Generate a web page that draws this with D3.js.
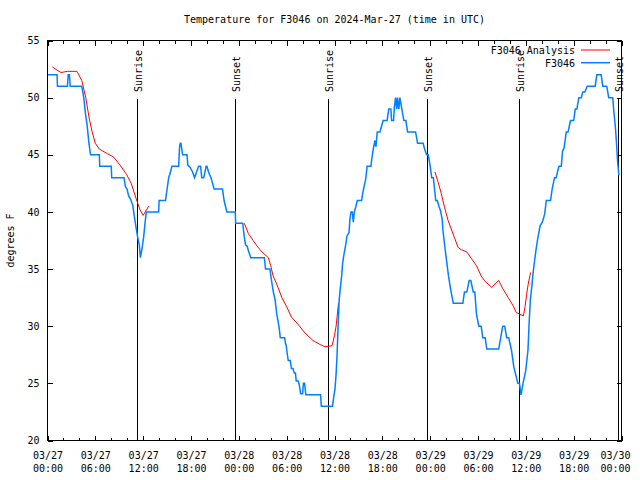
<!DOCTYPE html>
<html>
<head>
<meta charset="utf-8">
<script src="https://cdn.jsdelivr.net/npm/d3@7"></script>
<style>
  html, body { margin: 0; padding: 0; background: #fff; }
  svg { display: block; }
  text { font-family: "DejaVu Sans Mono", "Liberation Mono", monospace; font-size: 10px; fill: #000; }
</style>
</head>
<body>
<svg id="chart" width="640" height="480"></svg>
<script>
// ---------------- DATA ----------------
const chartTitle = "Temperature for F3046 on 2024-Mar-27 (time in UTC)";
const yLabel = "degrees F";
const startUTC = [2024, 2, 27];          // 03/27 00:00 UTC
const spanHours = 72;
const yTickValues = [20, 25, 30, 35, 40, 45, 50, 55];
const seriesNames = ["F3046 Analysis", "F3046"];
const seriesColors = ["#ff0000", "#0080ff"];

// Sunrise / sunset (hours since 03/27 00:00 UTC)
const sunHours  = [11.31, 23.56, 35.23, 47.63, 59.2, 71.67];
const sunLabels = ["Sunrise", "Sunset", "Sunrise", "Sunset", "Sunrise", "Sunset"];

// Observed temperature F3046 (hours since start)
const obsHours = [0,1.2,1.25,2.5,2.6,2.75,2.85,4.3,
 4.55,4.76,4.97,5.18,5.4,6.5,6.55,8.0,8.05,9.6,
 9.77,9.98,10.18,10.39,10.69,10.94,11.14,11.31,11.52,11.65,
 11.86,12.06,12.23,12.4,13.94,14.0,14.8,15.0,15.2,15.35,15.6,
 16.45,16.57,16.65,16.74,16.82,16.95,17.5,17.6,17.9,18.2,18.45,18.95,19.2,19.35,19.6,19.9,20.0,20.2,20.5,20.75,20.9,21.95,22.15,22.5,23.55,23.6,
 24.5,24.65,24.75,24.85,25.05,25.2,25.5,27.2,27.35,27.9,
 28.1,28.3,28.55,28.75,29.05,29.2,29.75,29.85,29.95,30.05,30.2,30.45,30.6,30.8,30.95,31.1,31.2,31.45,31.6,31.75,32.0,32.1,32.25,32.4,34.25,34.35,35.75,
 35.9,36.06,36.19,36.31,36.4,36.48,36.6,36.77,36.9,37.02,37.19,37.4,37.57,37.82,37.94,38.07,38.23,38.36,38.49,38.65,38.86,39.4,39.53,39.7,39.9,40.1,40.57,40.65,40.86,41.07,41.2,41.36,41.7,41.9,42.1,42.6,42.8,43.07,43.16,43.41,43.5,43.66,43.8,43.9,44.07,44.2,44.4,44.7,44.95,45.17,46.17,46.42,47.12,47.3,47.55,47.75,47.96,48.2,48.4,48.7,48.9,49.1,49.3,49.5,49.6,49.9,50.1,50.3,50.55,50.9,52.1,52.3,52.6,52.9,53.1,53.4,53.6,53.8,54.1,54.4,54.6,54.9,55.1,56.6,56.85,57.1,57.35,57.6,57.85,58.2,58.5,59.0,59.2,59.4,59.6,
 59.65,59.98,60.27,60.4,60.56,60.77,60.9,61.1,61.3,61.5,61.8,62.07,62.36,62.57,63.1,63.3,63.6,63.8,64.15,64.45,64.6,64.8,65.07,65.3,65.6,66.0,66.2,66.4,66.65,66.95,67.15,67.4,67.7,68.7,68.9,69.45,69.65,70.15,70.4,70.9,71.04,71.25,71.4,71.5,71.67];
const obsTemps = [52,52,51,51,52,52,51,51,
 50,48.6,47.6,46.1,45,45,44,44,43,43,
 42.2,42,41.4,41.15,40.6,39.4,38.5,37.8,37.1,36,
 36.8,37.8,39,40,40,41,41,42,43,43.3,44,
 44,45.7,46,46,45.6,45,45,44.1,43.9,43.5,43,44,44,43,43,44,44,43.5,43,42.4,42,42,41,40,40,39,
 39,38,37.5,37.1,37,36.6,36,36,35,35,
 34,33.1,32.3,31.1,29.9,29,29,28.5,28.3,27.7,27,27,26.3,26.3,25.9,25.9,25.2,25.2,24.8,24.1,24.1,25,25,24,24,23,23,
 23.8,24.5,25.7,27.3,29,30.6,32.4,33.6,34.4,35.5,36.3,37.1,37.9,38.2,39.4,40,40,39.1,40,40.4,41,41,41.6,42.2,42.8,44,44,44.5,45.5,46.25,45.7,47,47,47.5,48,48,49,49,48,48,49.1,50,49,50,49,50,49.2,48,48,47,47,46,46,45.5,45,45,44.2,43,43,41,41,40.5,40.1,39.4,38.4,36.6,35.5,34.4,33.3,32,32,33,33,34,34,33,33,31.1,30,30,29,29,28,28,29,30,30,29,29,27.9,26.4,25,25,24,24.8,
 25,26.1,27.9,30.06,32.25,33.6,34.6,35.75,36.8,37.7,38.8,39.1,39.8,41,41,42,43,43,44,44,45.3,45.6,47,47,48,48,49,49,50,50,50.5,50.5,51,51,52,52,51,51,50,50,48.8,47.3,45.7,44.5,43.2];

// Analysis F3046 Analysis (null = gap)
const anaHours = [0.6,1.2,1.7,2.5,3.7,4.3,4.8,5.2,5.6,6.0,6.5,7.5,8.3,9.1,9.9,10.5,11.1,11.6,12.0,12.7,
 null,
 24.7,25.2,25.8,26.3,26.9,27.7,28.0,28.3,28.8,29.4,30.0,30.6,31.5,32.3,33.3,34.2,34.8,35.7,36.0,36.2,36.5,
 null,
 48.6,49.0,49.4,49.8,50.25,50.7,51.1,51.5,51.9,52.6,53.2,53.8,54.4,54.8,55.7,56.6,57.1,57.8,58.4,58.8,59.4,59.7,59.9,60.1,60.3,60.6];
const anaTemps = [52.7,52.4,52.2,52.3,52.3,51.5,50.0,48.3,47.0,46.0,45.5,45.1,44.8,44.1,43.3,42.5,41.2,40.2,39.7,40.5,
 null,
 39.0,38.1,37.5,37.0,36.5,36.0,35.3,34.4,33.6,32.5,31.7,30.8,30.1,29.4,28.75,28.4,28.2,28.3,29.2,30.0,32.0,
 null,
 43.5,42.6,41.6,40.4,39.25,38.4,37.65,36.9,36.7,36.5,35.9,35.3,34.4,34.0,33.4,34.0,33.3,32.5,31.8,31.2,31.0,30.9,31.7,32.8,33.7,34.7];

// ---------------- CHART ----------------
const svg = d3.select("#chart");
const L = 47.5, R = 621.5, T = 40.5, B = 440.5;
const t0 = Date.UTC(startUTC[0], startUTC[1], startUTC[2]);
const toDate = h => new Date(t0 + h * 3600e3);

const x = d3.scaleUtc().domain([toDate(0), toDate(spanHours)]).range([L, R]);
const y = d3.scaleLinear().domain([20, 55]).range([B, T]);

const majorTicks = d3.utcHour.every(6).range(toDate(0), toDate(spanHours + 0.01));
const minorTicks = d3.utcHour.every(2).range(toDate(0), toDate(spanHours + 0.01))
  .filter(d => d.getUTCHours() % 6 !== 0);

// Title
svg.append("text").attr("x", (L + R) / 2).attr("y", 23).attr("text-anchor", "middle").text(chartTitle);

// Y label
svg.append("text").attr("transform", `translate(14,${(T + B) / 2}) rotate(-90)`)
  .attr("text-anchor", "middle").text(yLabel);

function styleAxis(g) {
  g.select(".domain").remove();
  g.selectAll(".tick line").attr("stroke", "#000").attr("shape-rendering", "crispEdges");
  g.selectAll("text").attr("font-family", null).attr("font-size", null);
}

// Bottom axis (major, labelled)
const gB = svg.append("g").attr("transform", `translate(0,${B})`)
  .call(d3.axisBottom(x).tickValues(majorTicks).tickSize(-5).tickFormat(() => ""));
styleAxis(gB);
gB.selectAll(".tick text").remove();
gB.selectAll(".tick").each(function(d) {
  const px = x(d);
  const shift = Math.min(0, 630 - (px + 15)); // keep label inside the canvas like the original
  const t = d3.select(this).append("text").attr("text-anchor", "middle").attr("y", 18);
  t.append("tspan").attr("x", shift).text(d3.utcFormat("%m/%d")(d));
  t.append("tspan").attr("x", shift).attr("dy", 13).text(d3.utcFormat("%H:%M")(d));
});
styleAxis(svg.append("g").attr("transform", `translate(0,${B})`)
  .call(d3.axisBottom(x).tickValues(minorTicks).tickSize(-3).tickFormat("")));
// Top axis (mirror)
styleAxis(svg.append("g").attr("transform", `translate(0,${T})`)
  .call(d3.axisTop(x).tickValues(majorTicks).tickSize(-5).tickFormat("")));
styleAxis(svg.append("g").attr("transform", `translate(0,${T})`)
  .call(d3.axisTop(x).tickValues(minorTicks).tickSize(-3).tickFormat("")));
// Left / right axes
styleAxis(svg.append("g").attr("transform", `translate(${L},0)`)
  .call(d3.axisLeft(y).tickValues(yTickValues).tickSize(-5).tickPadding(8).tickFormat(d3.format("d"))));
styleAxis(svg.append("g").attr("transform", `translate(${R},0)`)
  .call(d3.axisRight(y).tickValues(yTickValues).tickSize(-5).tickFormat("")));

// Sunrise / sunset lines
const sun = svg.append("g");
sunHours.forEach((h, i) => {
  const xs = x(toDate(h));
  sun.append("line").attr("x1", xs).attr("x2", xs).attr("y1", 99).attr("y2", B)
    .attr("stroke", "#000").attr("stroke-width", 1).attr("shape-rendering", "crispEdges");
  sun.append("text").attr("transform", `translate(${xs + 4.5},92) rotate(-90)`)
    .attr("text-anchor", "start").text(sunLabels[i]);
});

// Analysis line
const anaLine = d3.line()
  .defined((d, i) => anaHours[i] !== null)
  .x((d, i) => x(toDate(anaHours[i])))
  .y((d, i) => y(anaTemps[i]));
svg.append("path").attr("d", anaLine(anaHours)).attr("fill", "none")
  .attr("stroke", seriesColors[0]).attr("stroke-width", 1);

// Observed line
const obsLine = d3.line()
  .x((d, i) => x(toDate(obsHours[i])))
  .y((d, i) => y(obsTemps[i]));
svg.append("path").attr("d", obsLine(obsHours)).attr("fill", "none")
  .attr("stroke", seriesColors[1]).attr("stroke-width", 1.5).attr("stroke-linejoin", "miter");

// Frame
svg.append("rect").attr("x", L).attr("y", T).attr("width", R - L).attr("height", B - T)
  .attr("fill", "none").attr("stroke", "#000").attr("shape-rendering", "crispEdges");

// Legend
const leg = svg.append("g");
seriesNames.forEach((name, i) => {
  const ly = 50 + i * 12.7;
  leg.append("text").attr("x", 575).attr("y", ly + 3.8).attr("text-anchor", "end").text(name);
  leg.append("line").attr("x1", 581).attr("x2", 610).attr("y1", ly).attr("y2", ly)
    .attr("stroke", seriesColors[i]).attr("stroke-width", i === 0 ? 1 : 1.5);
});
</script>
</body>
</html>
